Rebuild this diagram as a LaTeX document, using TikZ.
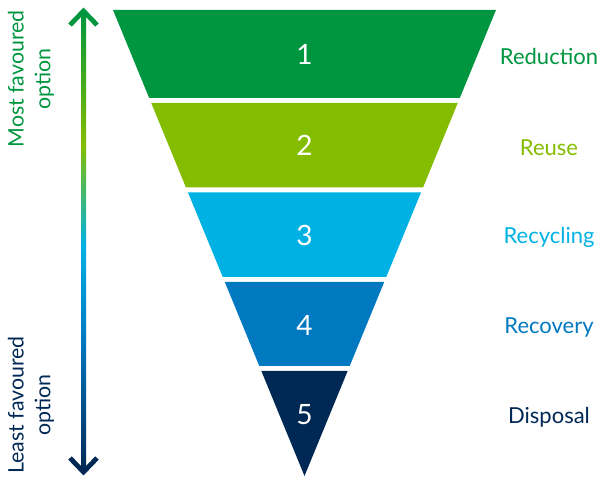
\documentclass[tikz,border=0pt]{standalone}
\usepackage{fontspec}
\setmainfont{Lato}
\usepackage{tikz}
\usetikzlibrary{arrows.meta}
\usepackage{xcolor}

\definecolor{redgreen}{HTML}{00963F}
\definecolor{reusegreen}{HTML}{84BD00}
\definecolor{recyccyan}{HTML}{00B2E3}
\definecolor{recovblue}{HTML}{0079C1}
\definecolor{disponavy}{HTML}{002855}

\begin{document}
\begin{tikzpicture}[x=0.75pt,y=-0.75pt,
  lab/.style={font=\fontsize{16.5}{19}\selectfont},
  num/.style={text=white, font=\fontsize{21}{24}\selectfont},
  side/.style={rotate=90, align=center, font=\fontsize{16}{20}\selectfont},
  head/.style={line width=3.6pt, line join=miter}]
\useasboundingbox (0,0) rectangle (601,477);

% inverted triangle, apex at (304.5,476), split into five bands
\foreach \ta/\tb/\ym/\col/\k/\txt in {10/98/54/redgreen/1/Reduction,
    103/187.5/145/reusegreen/2/Reuse, 192.5/277/235/recyccyan/3/Recycling,
    282/366/325/recovblue/4/Recovery, 371/476/415/disponavy/5/Disposal}{
  \pgfmathsetmacro{\wa}{0.4109*(476-\ta)}
  \pgfmathsetmacro{\wb}{0.4109*(476-\tb)}
  \fill[\col] (304.5-\wa,\ta) -- (304.5+\wa,\ta) -- (304.5+\wb,\tb) -- (304.5-\wb,\tb) -- cycle;
  \node[num] (n\k) at (304.5,\ym) {\k};
  \node[lab, text=\col] (l\k) at (549,\ym+2.5) {\txt};
}

% shaded double arrow on the left
\coordinate (top) at (83.5,11);
\coordinate (bot) at (83.5,472);
\shade[top color=redgreen, bottom color=reusegreen] (81,12) rectangle (86,145);
\shade[top color=reusegreen, bottom color=recyccyan] (81,145) rectangle (86,245);
\shade[top color=recyccyan, bottom color=recovblue] (81,245) rectangle (86,340);
\shade[top color=recovblue, bottom color=disponavy] (81,340) rectangle (86,471);
\draw[head, redgreen] (70,25) -- (top) -- (97,25);
\draw[head, disponavy] (70,458) -- (bot) -- (97,458);

\node[side, text=redgreen] (most) at (31,79) {Most favoured\\option};
\node[side, text=disponavy] (least) at (31,405) {Least favoured\\option};
\end{tikzpicture}
\end{document}
